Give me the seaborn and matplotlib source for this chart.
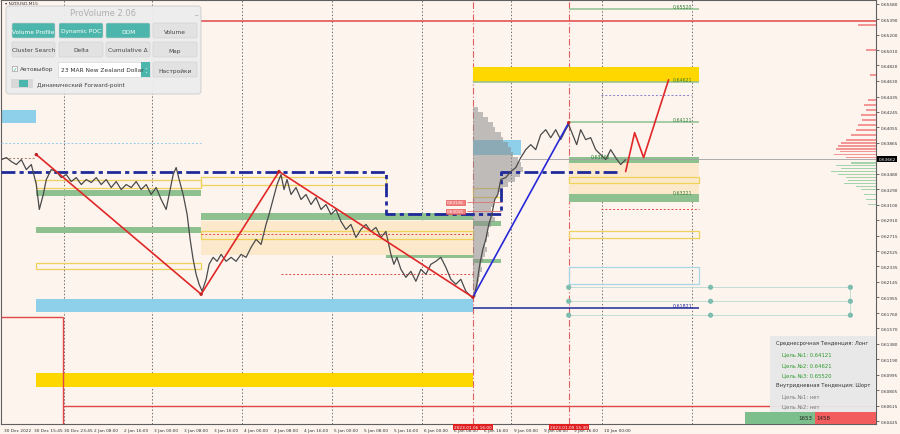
import matplotlib
matplotlib.use("Agg")
import matplotlib.pyplot as plt
from matplotlib.patches import Rectangle, FancyBboxPatch
import seaborn as sns
import pandas as pd

# ---------------- data ----------------
tick_pos = [3 + 30 * k for k in range(21)]
tick_labels = ["30 Dec 2022", "30 Dec 15:45", "30 Dec 23:45", "2 Jan 08:00", "2 Jan 16:00",
               "3 Jan 00:00", "3 Jan 08:00", "3 Jan 16:00", "4 Jan 00:00", "4 Jan 08:00",
               "4 Jan 16:00", "5 Jan 00:00", "5 Jan 08:00", "5 Jan 16:00", "6 Jan 00:00",
               "6 Jan 08:00", "6 Jan 16:00", "9 Jan 00:00", "9 Jan 08:00", "9 Jan 16:00",
               "10 Jan 00:00"]
price_ticks = [0.65580, 0.65390, 0.65200, 0.65010, 0.64820, 0.64630, 0.64435, 0.64245,
               0.64055, 0.63865, 0.63480, 0.63290, 0.63100, 0.62910, 0.62715, 0.62525,
               0.62335, 0.62145, 0.61955, 0.61760, 0.61570, 0.61380, 0.61190, 0.60995,
               0.60805, 0.60615, 0.60425]
current_price = 0.63662

bar_x = [0, 5, 10, 15, 20, 25, 30, 35, 38, 42, 45, 50, 55, 60, 65, 70, 75, 80, 85, 90, 95,
         100, 105, 110, 115, 120, 125, 130, 135, 140, 145, 150, 155, 160, 165, 168, 172, 175,
         178, 182, 186, 189, 192, 195, 198, 201, 205, 208, 212, 216, 220, 225, 230, 235, 240,
         245, 250, 255, 260, 265, 268, 272, 276, 280, 283, 286, 290, 295, 300, 305, 310, 315,
         320, 325, 330, 335, 340, 345, 350, 355, 360, 365, 370, 375, 380, 385, 390, 393, 396,
         400, 405, 410, 415, 420, 425, 430, 435, 440, 445, 450, 455, 460, 465, 470, 473, 476,
         479, 482, 485, 488, 491, 494, 497, 500, 505, 510, 515, 520, 525, 530, 535, 540, 545,
         550, 555, 560, 565, 568, 572, 576, 580, 585, 590, 595, 600, 605, 610, 615, 620, 625]
close = [0.63656, 0.63681, 0.63632, 0.63595, 0.63656, 0.63533, 0.63595, 0.63348, 0.63040,
         0.63225, 0.63410, 0.63533, 0.63508, 0.63434, 0.63471, 0.63385, 0.63434, 0.63348,
         0.63410, 0.63373, 0.63434, 0.63348, 0.63410, 0.63311, 0.63385, 0.63286, 0.63348,
         0.63311, 0.63385, 0.63286, 0.63348, 0.63225, 0.63311, 0.63163, 0.63040, 0.63225,
         0.63471, 0.63558, 0.63410, 0.63225, 0.62978, 0.62670, 0.62423, 0.62238, 0.62115,
         0.62029, 0.62177, 0.62362, 0.62448, 0.62399, 0.62485, 0.62399, 0.62448, 0.62399,
         0.62485, 0.62448, 0.62571, 0.62670, 0.62608, 0.62855, 0.62978, 0.63163, 0.63348,
         0.63471, 0.63286, 0.63410, 0.63225, 0.63311, 0.63163, 0.63225, 0.63101, 0.63188,
         0.63040, 0.63101, 0.62978, 0.63040, 0.62892, 0.62793, 0.62855, 0.62694, 0.62793,
         0.62855, 0.62768, 0.62818, 0.62694, 0.62768, 0.62485, 0.62362, 0.62448, 0.62300,
         0.62201, 0.62275, 0.62152, 0.62300, 0.62238, 0.62362, 0.62399, 0.62448, 0.62325,
         0.62177, 0.62115, 0.62177, 0.62029, 0.61967, 0.61955, 0.62115, 0.62362, 0.62546,
         0.62670, 0.62855, 0.62978, 0.63163, 0.63225, 0.63410, 0.63434, 0.63508, 0.63558,
         0.63681, 0.63779, 0.63841, 0.63779, 0.63964, 0.64026, 0.63927, 0.64026, 0.63903,
         0.64026, 0.64088, 0.63964, 0.63841, 0.64026, 0.63903, 0.63927, 0.63779, 0.63718,
         0.63656, 0.63779, 0.63681, 0.63595, 0.63656]

zig_red_x = [35, 200, 278, 472]
zig_red_y = [0.63718, 0.61992, 0.63508, 0.61955]
zig_blue_x = [472, 568]
zig_blue_y = [0.61955, 0.64112]
fc_x = [625, 634, 643, 668]
fc_y = [0.63508, 0.63989, 0.63681, 0.64643]

step_x = [0, 385, 385, 500, 500, 620]
step_y = [0.63508, 0.63508, 0.62978, 0.62978, 0.63508, 0.63508]

# filled zones: x0, x1, lo, hi, colour
zone_x0 = [472, 35, 35, 0, 472, 200, 568, 35, 35, 200, 385, 568, 568, 472, 472]
zone_x1 = [698, 472, 472, 35, 520, 472, 698, 200, 200, 472, 472, 698, 698, 500, 500]
zone_lo = [0.64621, 0.60845, 0.61770, 0.64112, 0.63718, 0.62473, 0.63225, 0.63212, 0.62744,
           0.62904, 0.62436, 0.63619, 0.63138, 0.62830, 0.62374]
zone_hi = [0.64803, 0.61018, 0.61930, 0.64273, 0.63903, 0.62892, 0.63619, 0.63286, 0.62818,
           0.62990, 0.62473, 0.63693, 0.63225, 0.62892, 0.62423]
zone_kind = ["gold", "gold", "blue", "blue", "blue", "peach", "peach", "green", "green",
             "green", "green", "green", "green", "green", "green"]

# outlined zones
box_x0 = [35, 200, 200, 35, 568, 568, 472, 568]
box_x1 = [200, 385, 472, 200, 698, 698, 500, 698]
box_lo = [0.63311, 0.63348, 0.62670, 0.62300, 0.63373, 0.62682, 0.63188, 0.62115]
box_hi = [0.63410, 0.63446, 0.62768, 0.62374, 0.63446, 0.62768, 0.63311, 0.62325]
box_kind = ["yellow", "yellow", "yellow", "yellow", "yellow", "yellow", "yellow", "lightblue"]

# target levels
lvl_x0 = [568, 472, 568, 472, 200, 520]
lvl_x1 = [698, 698, 698, 698, 876, 876]
lvl_y = [0.65520, 0.64621, 0.64121, 0.61821, 0.65370, current_price]
lvl_kind = ["green", "green", "green", "navy", "red", "gray"]
lvl_text = ["0.65520", "0.64621", "0.64121", "0.61821", "", ""]
zone_text = ["0.63662", "0.63221"]
zone_text_x = [590, 672]
zone_text_y = [0.63662, 0.63221]

# red price tags left of the profile
tag_y = [0.63126, 0.63015]
tag_x = [446, 446]

# dotted levels
dot_x0 = [0, 600, 600, 200, 280, 0]
dot_x1 = [200, 690, 698, 472, 472, 35]
dot_y = [0.63866, 0.64458, 0.63040, 0.62732, 0.62238, 0.63681]
dot_kind = ["blue", "purple", "red", "red", "red", "brown"]

# volume profile at 6 Jan 16:00
vp_price = [0.64273, 0.64211, 0.64149, 0.64088, 0.64026, 0.63964, 0.63903, 0.63841, 0.63779,
            0.63718, 0.63656, 0.63595, 0.63533, 0.63471, 0.63410, 0.63348, 0.63286, 0.63225,
            0.63163, 0.63101, 0.63040, 0.62978, 0.62917, 0.62855, 0.62793, 0.62732, 0.62670,
            0.62608, 0.62546, 0.62485, 0.62423, 0.62362, 0.62300, 0.62238, 0.62177, 0.62115,
            0.62053, 0.61992]
vp_size = [5, 10, 15, 20, 22, 28, 30, 35, 38, 40, 45, 48, 50, 47, 42, 35, 30, 25, 22, 20, 18,
           20, 22, 18, 15, 16, 14, 12, 14, 12, 10, 8, 9, 7, 6, 5, 4, 3]

# DOM
dom_price = [0.65321, 0.65013, 0.64705, 0.64396, 0.64334, 0.64273, 0.64211, 0.64149, 0.64088,
             0.64026, 0.63964, 0.63903, 0.63866, 0.63829, 0.63792, 0.63755, 0.63718, 0.63681,
             0.63619, 0.63582, 0.63545, 0.63508, 0.63471, 0.63434, 0.63397, 0.63360, 0.63323,
             0.63286, 0.63225, 0.63163, 0.63101]
dom_size = [18, 10, 6, 8, 12, 10, 15, 14, 18, 20, 25, 30, 35, 38, 40, 36, 42, 30,
            25, 40, 35, 45, 38, 30, 28, 32, 20, 15, 12, 10, 8]

dots_x = [568, 710, 850]
dots_y = [0.62078, 0.61905, 0.61733]

grid_x = [63, 151, 241, 331, 421, 510, 601, 691]
event_x = [472, 568]
event_text = ["2023.01.06 16:00", "2023.01.09 15:30"]

bottom_red_y = 0.60615
left_box_y = 0.61708

info_lines = ["Среднесрочная Тенденция: Лонг", "Цель №1: 0.64121", "Цель №2: 0.64621",
              "Цель №3: 0.65520", "Внутридневная Тенденция: Шорт", "Цель №1: нет", "Цель №2: нет"]
info_kind = ["head", "green", "green", "green", "head", "gray", "gray"]
buy_vol, sell_vol = 1653, 1458

# ---------------- style ----------------
sns.set_theme(style="white")
plt.rcParams["font.family"] = ["DejaVu Sans"]
BG = "#FDF4EE"
C = {"gold": "#FFD700", "blue": "#8ECFEA", "peach": "#FCE9CC", "green": "#8FC08F",
     "yellow": "#EFD25A", "lightblue": "#A9D6E5", "navy": "#1F2A9A", "red": "#E04848",
     "gray": "#A0A0A0", "purple": "#8A7FD0", "brown": "#A08060"}

fig = plt.figure(figsize=(9, 4.35), dpi=100, facecolor=BG)
ax = fig.add_axes([0.0015, 10 / 435, 875 / 900, 424 / 435])
ax.set_facecolor(BG)
ax.set_xlim(0, 876)
ax.set_ylim(0.60388, 0.65629)

# grid verticals
for gx in grid_x:
    ax.axvline(gx, color="#707070", lw=0.7, ls=(0, (1.5, 2)), zorder=1)
for ex in event_x:
    ax.axvline(ex, color="#E06060", lw=0.8, ls=(0, (6, 2, 1, 2)), zorder=1)

# zones
for x0, x1, lo, hi, k in zip(zone_x0, zone_x1, zone_lo, zone_hi, zone_kind):
    ax.add_patch(Rectangle((x0, lo), x1 - x0, hi - lo, facecolor=C[k], edgecolor="none",
                           zorder=2))
for x0, x1, lo, hi, k in zip(box_x0, box_x1, box_lo, box_hi, box_kind):
    ax.add_patch(Rectangle((x0, lo), x1 - x0, hi - lo, facecolor="none", edgecolor=C[k],
                           lw=0.9, zorder=2.5))

# dotted levels
for x0, x1, y, k in zip(dot_x0, dot_x1, dot_y, dot_kind):
    ax.hlines(y, x0, x1, color=C[k], lw=0.7, ls=(0, (2, 2)), zorder=3)

# left red box and bottom red line
ax.hlines(left_box_y, 0, 62, color=C["red"], lw=1.0, zorder=3)
ax.vlines(62, 0.60388, left_box_y, color=C["red"], lw=1.0, zorder=3)
ax.hlines(bottom_red_y, 62, 876, color=C["red"], lw=1.0, zorder=3)

# levels
for x0, x1, y, k, t in zip(lvl_x0, lvl_x1, lvl_y, lvl_kind, lvl_text):
    ax.hlines(y, x0, x1, color=C[k], lw=1.1 if k != "gray" else 0.6, zorder=3.5)
    if t:
        ax.text(672, y + 0.00012, t, fontsize=3.4, color="#2E7D32" if k == "green" else C[k],
                zorder=6)
for t, x, y in zip(zone_text, zone_text_x, zone_text_y):
    ax.text(x, y + 0.00008, t, fontsize=3.4, color="#2E7D32", zorder=6)

# red price tags
for x, y in zip(tag_x, tag_y):
    ax.hlines(y, x + 20, 500, color="#E07070", lw=0.6, zorder=6)
    ax.text(x, y, f"{y:.5f}", fontsize=3.0, color="white", va="center", zorder=8,
            bbox=dict(boxstyle="square,pad=0.2", fc="#F08080", ec="#E04040", lw=0.4))

# volume profile
ax.barh(vp_price, vp_size, left=472, height=0.00060, color="#8C8C8C", alpha=0.55,
        edgecolor="none", zorder=3)

# DOM
dom_colors = ["#F08080" if p > current_price else "#8FCB9B" for p in dom_price]
ax.barh(dom_price, [-s for s in dom_size], left=876, height=0.00022, color=dom_colors,
        alpha=0.8, edgecolor="none", zorder=3)

# dash-dot step
sns.lineplot(x=step_x, y=step_y, ax=ax, color=C["navy"], lw=2.0, sort=False,
             estimator=None, linestyle=(0, (5, 1.5, 1.5, 1.5)), zorder=4)

# price
df = pd.DataFrame({"bar": bar_x, "close": close})
sns.lineplot(data=df, x="bar", y="close", ax=ax, color="#4A4A4A", lw=0.9, estimator=None,
             zorder=5)

# zigzags
sns.lineplot(x=zig_red_x, y=zig_red_y, ax=ax, color="#E02828", lw=1.2, sort=False,
             estimator=None, zorder=6)
sns.lineplot(x=zig_blue_x, y=zig_blue_y, ax=ax, color="#2828D8", lw=1.2, sort=False,
             estimator=None, zorder=6)
sns.lineplot(x=fc_x, y=fc_y, ax=ax, color="#E02828", lw=1.2, sort=False, estimator=None,
             zorder=6)
sns.scatterplot(x=zig_red_x + zig_blue_x[1:], y=zig_red_y + zig_blue_y[1:], ax=ax,
                color="#C02020", s=6, edgecolor="none", zorder=7)

# teal dots
for y in dots_y:
    ax.hlines(y, dots_x[0], dots_x[-1], color="#B8D8D0", lw=0.6, zorder=3)
ax.vlines(dots_x[-1], dots_y[-1], dots_y[0], color="#B8D8D0", lw=0.6, zorder=3)
dd = pd.DataFrame([(x, y) for x in dots_x for y in dots_y], columns=["x", "y"])
sns.scatterplot(data=dd, x="x", y="y", ax=ax, color="#7DBDB0", s=14, edgecolor="none",
                zorder=7)

# axes styling
ax.set_xlabel("")
ax.set_ylabel("")
ax.set_xticks(tick_pos)
ax.set_xticklabels(tick_labels, fontsize=3.1, color="#333333", ha="left")
ax.yaxis.tick_right()
ax.set_yticks(price_ticks)
ax.set_yticklabels([f"{p:.5f}" for p in price_ticks], fontsize=3.1, color="#333333")
ax.tick_params(axis="both", length=2, width=0.5, pad=1.2, colors="#333333")
for s in ax.spines.values():
    s.set_color("#606060")
    s.set_linewidth(0.8)
if ax.get_legend():
    ax.get_legend().remove()

# current price label
ax.text(878, current_price, f"{current_price:.5f}", fontsize=3.1, color="white",
        va="center", ha="left", transform=ax.transData, clip_on=False, zorder=10,
        bbox=dict(boxstyle="square,pad=0.2", fc="black", ec="none"))

# event labels on time axis
for ex, t in zip(event_x, event_text):
    ax.text(ex, 0.60375, t, fontsize=3.1, color="white", ha="center", va="top",
            clip_on=False, zorder=10,
            bbox=dict(boxstyle="square,pad=0.25", fc="#E02020", ec="none"))

# ---------------- overlay (pixel coords) ----------------
ov = fig.add_axes([0, 0, 1, 1], facecolor="none")
ov.set_xlim(0, 900)
ov.set_ylim(435, 0)
ov.axis("off")

ov.text(5, 4, "▾ NZDUSD,M15", fontsize=3.2, color="#333", va="center")

panel = FancyBboxPatch((6, 7), 195, 88, boxstyle="round,pad=0,rounding_size=3",
                       fc="#EDEDED", ec="#C8C8C8", lw=0.6, alpha=0.97)
ov.add_patch(panel)
ov.text(103, 14, "ProVolume 2.06", fontsize=6, color="#AFAFAF", ha="center", va="center")
ov.text(196, 13, "_", fontsize=5, color="#999", ha="center", va="center")
teal = "#4DB6AC"
row1 = [("Volume Profile", 12, 55, True), ("Dynamic POC", 59, 103, True),
        ("DOM", 106, 150, True), ("Volume", 153, 197, False)]
row2 = [("Cluster Search", 12, 55), ("Delta", 59, 103), ("Cumulative Δ", 106, 150),
        ("Map", 153, 197)]
for t, x0, x1, on in row1:
    ov.add_patch(FancyBboxPatch((x0, 24), x1 - x0, 15, boxstyle="round,pad=0,rounding_size=1.5",
                                fc=teal if on else "#E2E2E2", ec="#CFCFCF", lw=0.4))
    ov.text((x0 + x1) / 2, 32, t, fontsize=4.2, color="white" if on else "#444",
            ha="center", va="center")
for t, x0, x1 in row2:
    ov.add_patch(FancyBboxPatch((x0, 43), x1 - x0, 15, boxstyle="round,pad=0,rounding_size=1.5",
                                fc="#E2E2E2", ec="#CFCFCF", lw=0.4))
    ov.text((x0 + x1) / 2, 51, t, fontsize=4.2, color="#444", ha="center", va="center")
ov.add_patch(Rectangle((12, 67), 5, 5, fc="white", ec="#888", lw=0.4))
ov.text(12.5, 70, "✓", fontsize=4, color="#2a7", va="center")
ov.text(20, 70, "Автовыбор", fontsize=4.2, color="#444", va="center")
ov.add_patch(Rectangle((58, 63), 92, 15, fc="white", ec="#D0D0D0", lw=0.4))
ov.text(61, 71, "23 MAR New Zealand Dollar", fontsize=4.2, color="#333", va="center")
ov.add_patch(Rectangle((141, 63), 9, 15, fc=teal, ec="none"))
ov.text(145.5, 71, "⌃\n⌄", fontsize=2.6, color="white", ha="center", va="center",
        linespacing=0.6)
ov.add_patch(FancyBboxPatch((153, 63), 44, 15, boxstyle="round,pad=0,rounding_size=1.5",
                            fc="#E2E2E2", ec="#CFCFCF", lw=0.4))
ov.text(175, 71, "Настройки", fontsize=4.2, color="#444", ha="center", va="center")
ov.add_patch(FancyBboxPatch((11, 80), 22, 9, boxstyle="round,pad=0,rounding_size=1",
                            fc="#D8D8D8", ec="none"))
ov.add_patch(Rectangle((19, 81), 9, 7, fc=teal, ec="none"))
ov.text(37, 85, "Динамический Forward-point", fontsize=4.2, color="#444", va="center")

# info panel
ov.add_patch(Rectangle((770, 337), 106, 88, fc="#E8E8E8", ec="none", alpha=0.95, zorder=2))
info_y = [344, 355, 366, 376, 386, 397, 407]
for t, y, k in zip(info_lines, info_y, info_kind):
    col = {"head": "#333333", "green": "#2E9A2E", "gray": "#777777"}[k]
    xx = 776 if k == "head" else 782
    ov.text(xx, y, t, fontsize=3.8, color=col, va="center", zorder=3)

# buy/sell volume bar
tot = buy_vol + sell_vol
w = 876 - 745
xb = 745 + w * buy_vol / tot
ov.add_patch(Rectangle((745, 413), xb - 745, 12, fc="#7CBF8C", ec="none", zorder=4))
ov.add_patch(Rectangle((xb, 413), 876 - xb, 12, fc="#F25C5C", ec="none", zorder=4))
ov.text(xb - 2, 419, str(buy_vol), fontsize=4.0, color="#222", ha="right", va="center", zorder=5)
ov.text(xb + 2, 419, str(sell_vol), fontsize=4.0, color="#222", ha="left", va="center", zorder=5)

fig.savefig("out.png", dpi=100, facecolor=BG)
